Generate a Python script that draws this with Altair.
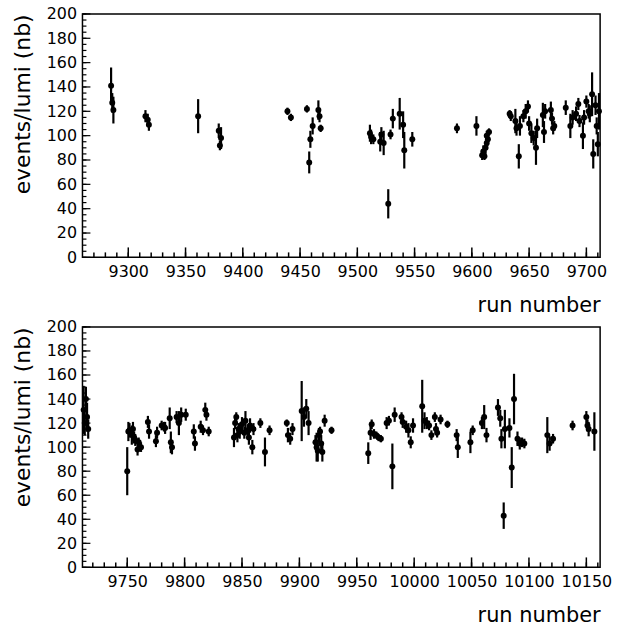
import altair as alt
import pandas as pd

# ---- top panel data: run number, events/lumi (nb), error ----
top_run = [9285, 9286, 9287, 9315, 9317, 9318, 9361, 9379, 9381, 9380,
           9439, 9442, 9456, 9458, 9459, 9461, 9466, 9467, 9468,
           9511, 9512, 9514, 9520, 9521, 9523, 9527, 9529, 9531, 9537,
           9540, 9541, 9548, 9587, 9604, 9609, 9610, 9611, 9612, 9613,
           9614, 9613, 9615, 9633, 9634, 9638, 9639, 9641, 9642, 9645,
           9647, 9649, 9650, 9652, 9654, 9656, 9657, 9662, 9663, 9664,
           9669, 9670, 9671, 9672, 9682, 9686, 9688, 9691, 9693, 9694,
           9697, 9698, 9700, 9702, 9703, 9705, 9706, 9708, 9709, 9710, 9711]
top_val = [141, 127, 121, 116, 113, 109, 116, 104, 98, 92,
           120, 115, 122, 78, 97, 108, 121, 116, 106,
           102, 99, 97, 95, 101, 94, 44, 101, 114, 118,
           109, 88, 97, 106, 108, 84, 87, 83, 90, 94,
           97, 100, 103, 118, 116, 112, 106, 83, 108, 116,
           120, 124, 110, 102, 98, 90, 106, 117, 103, 120,
           121, 114, 106, 108, 123, 108, 115, 118, 126, 112,
           100, 115, 128, 120, 118, 134, 85, 125, 108, 93, 120]
top_err = [15, 8, 11, 5, 5, 5, 14, 6, 9, 4,
           3, 3, 3, 9, 7, 7, 8, 5, 3,
           7, 6, 4, 8, 6, 10, 12, 4, 8, 13,
           11, 15, 6, 4, 8, 4, 5, 3, 5, 4,
           5, 4, 3, 3, 4, 10, 6, 10, 8, 5,
           6, 5, 6, 8, 6, 14, 8, 10, 9, 6,
           7, 5, 5, 4, 6, 10, 6, 6, 5, 5,
           11, 6, 5, 6, 7, 18, 12, 8, 7, 10, 15]

# ---- bottom panel data ----
bot_run = [9712, 9713, 9714, 9715, 9716, 9750, 9751, 9752, 9754, 9755,
           9756, 9757, 9759, 9760, 9762, 9768, 9769, 9775, 9776, 9780,
           9782, 9783, 9787, 9788, 9789, 9793, 9795, 9797, 9801, 9808,
           9809, 9814, 9816, 9818, 9819, 9821, 9843, 9844, 9845, 9846,
           9847, 9848, 9850, 9852, 9853, 9855, 9856, 9857, 9859, 9860,
           9866, 9870, 9874, 9889, 9890, 9892, 9894, 9902, 9904, 9906,
           9908, 9914, 9915, 9916, 9917, 9918, 9919, 9920, 9922, 9928,
           9960, 9962, 9963, 9965, 9967, 9969, 9971, 9976, 9978, 9981,
           9983, 9989, 9990, 9993, 9995, 9997, 9999, 10007, 10009, 10011,
           10013, 10015, 10018, 10019, 10020, 10023, 10029, 10037, 10038, 10049,
           10051, 10059, 10061, 10063, 10073, 10075, 10076, 10078, 10079, 10083,
           10085, 10087, 10090, 10092, 10094, 10096, 10116, 10118, 10121, 10138,
           10150, 10151, 10152, 10157]
bot_val = [131, 120, 140, 125, 115, 80, 113, 114, 110, 115,
           108, 106, 98, 104, 100, 121, 113, 105, 112, 118,
           117, 116, 124, 104, 100, 125, 120, 127, 127, 113,
           103, 117, 114, 131, 127, 113, 108, 120, 125, 110,
           115, 113, 119, 112, 122, 114, 108, 118, 100, 115,
           120, 96, 114, 120, 110, 107, 115, 130, 125, 132,
           120, 104, 100, 97, 110, 113, 103, 96, 122, 114,
           95, 112, 119, 111, 110, 108, 107, 120, 122, 84,
           127, 125, 121, 117, 114, 104, 118, 134, 122, 120,
           118, 110, 125, 115, 112, 123, 119, 110, 100, 104,
           114, 120, 125, 110, 133, 124, 107, 43, 115, 116,
           83, 140, 107, 103, 104, 103, 110, 103, 107, 118,
           125, 118, 115, 113]
bot_err = [20, 10, 10, 12, 8, 20, 8, 6, 8, 6,
           5, 5, 5, 4, 4, 5, 6, 5, 5, 4,
           4, 5, 9, 9, 6, 5, 10, 6, 5, 6,
           6, 5, 4, 6, 5, 4, 8, 5, 4, 6,
           5, 6, 6, 5, 8, 5, 6, 6, 6, 5,
           4, 12, 4, 3, 6, 5, 5, 25, 8, 8,
           10, 6, 12, 9, 6, 4, 7, 8, 5, 3,
           9, 6, 4, 4, 3, 3, 3, 5, 4, 19,
           6, 4, 5, 5, 6, 5, 6, 22, 7, 5,
           4, 4, 4, 5, 4, 4, 3, 5, 9, 9,
           4, 5, 10, 6, 7, 7, 8, 11, 16, 8,
           17, 21, 6, 5, 4, 4, 15, 6, 4, 4,
           5, 5, 6, 16]

top_labels = [9300, 9350, 9400, 9450, 9500, 9550, 9600, 9650, 9700]
bot_labels = [9750, 9800, 9850, 9900, 9950, 10000, 10050, 10100, 10150]
y_labels = [0, 20, 40, 60, 80, 100, 120, 140, 160, 180, 200]

top_domain = [9260, 9712]
bot_domain = [9711, 10162]

FONT = "DejaVu Sans"
W = 521


def panel(runs, vals, errs, domain, labels, h):
    df = pd.DataFrame({
        "run": runs, "val": vals,
        "lo": [v - e for v, e in zip(vals, errs)],
        "hi": [v + e for v, e in zip(vals, errs)],
    })
    xs = alt.Scale(domain=domain, nice=False, zero=False)
    ys = alt.Scale(domain=[0, 200], nice=False, zero=False)
    xaxis = alt.Axis(values=labels, ticks=False, domain=False, grid=False,
                     format="d", labelFontSize=16, labelPadding=6,
                     labelFlush=False, labelOverlap=False, labelColor="black",
                     title="run number", titleAnchor="end",
                     titleFontSize=21, titleFontWeight="normal",
                     titlePadding=15, titleColor="black")
    yaxis = alt.Axis(values=y_labels, tickCount=11, ticks=False, domain=False,
                     grid=False, format="d",
                     labelFontSize=16, labelPadding=6, labelOverlap=False,
                     labelFlush=False, labelColor="black",
                     title="events/lumi (nb)", titleFontSize=22,
                     titleAnchor="end",
                     titleFontWeight="normal", titlePadding=12,
                     titleColor="black")
    bars = alt.Chart(df).mark_rule(color="black", strokeWidth=2.2).encode(
        x=alt.X("run:Q", scale=xs, axis=xaxis),
        y=alt.Y("lo:Q", scale=ys, axis=yaxis), y2="hi:Q")
    pts = alt.Chart(df).mark_circle(color="black", size=36, opacity=1).encode(
        x=alt.X("run:Q", scale=xs, axis=xaxis),
        y=alt.Y("val:Q", scale=ys, axis=yaxis))

    lo_t = domain[0] - domain[0] % 10 + 10
    minors = list(range(lo_t, domain[1] + 1, 10))
    xt = pd.DataFrame({"run": minors})
    xticks = alt.Chart(xt).mark_rule(color="black", strokeWidth=1.5).encode(
        x=alt.X("run:Q", scale=xs, axis=xaxis),
        y=alt.value(h), y2=alt.value(h - 5))
    xticks_major = alt.Chart(xt[xt["run"] % 50 == 0]).mark_rule(
        color="black", strokeWidth=1.5).encode(
        x=alt.X("run:Q", scale=xs, axis=xaxis),
        y=alt.value(h), y2=alt.value(h - 10))
    yt = pd.DataFrame({"lo": list(range(0, 201, 5))})
    yticks = alt.Chart(yt).mark_rule(color="black", strokeWidth=1.2).encode(
        y=alt.Y("lo:Q", scale=ys, axis=yaxis),
        x=alt.value(0), x2=alt.value(4))
    yticks_major = alt.Chart(yt[yt["lo"] % 20 == 0]).mark_rule(
        color="black", strokeWidth=1.2).encode(
        y=alt.Y("lo:Q", scale=ys, axis=yaxis),
        x=alt.value(0), x2=alt.value(8))
    return alt.layer(bars, pts, xticks, xticks_major, yticks,
                     yticks_major).properties(width=W, height=h)


top = panel(top_run, top_val, top_err, top_domain, top_labels, 245)
bot = panel(bot_run, bot_val, bot_err, bot_domain, bot_labels, 242)

chart = alt.vconcat(top, bot, spacing=2).properties(
    padding={"left": 10, "top": 3, "right": 5, "bottom": 0},
    background="white",
).configure_view(stroke="black", strokeWidth=1.5).configure_axis(
    labelFont=FONT, titleFont=FONT)

chart.save("out.html", embed_options={"renderer": "svg", "actions": False})
